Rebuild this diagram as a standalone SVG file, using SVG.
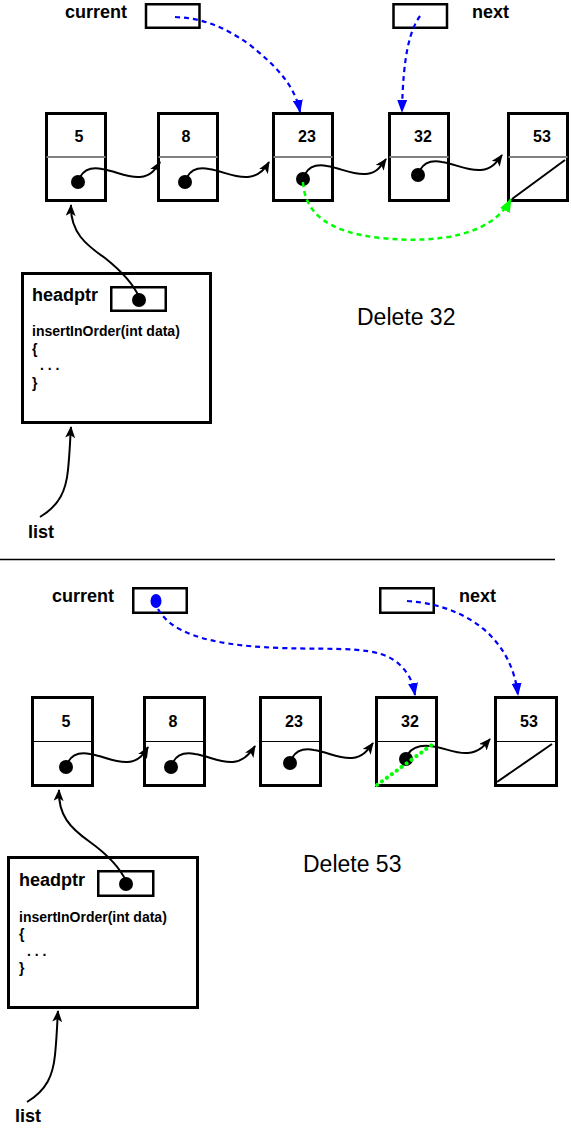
<svg xmlns="http://www.w3.org/2000/svg" width="571" height="1130" viewBox="0 0 571 1130">
<style>
text{font-family:"Liberation Sans",Arial,sans-serif;fill:#000}
.lbl{font-size:18px;font-weight:bold}
.num{font-size:16px;font-weight:bold;text-anchor:middle}
.code{font-size:14px;font-weight:bold}
.big{font-size:23px}
.box{fill:#fff;stroke:#000;stroke-width:3}
.sbox{fill:none;stroke:#000;stroke-width:2.5}
.divg{stroke:#808080;stroke-width:2}
.divb{stroke:#000;stroke-width:1}
.dot{fill:#000}
.ptr{fill:none;stroke:#000;stroke-width:2;marker-end:url(#ah)}
.nul{stroke:#000;stroke-width:2}
.blue{fill:none;stroke:#0000ff;stroke-width:2.2;stroke-dasharray:5 4;marker-end:url(#bh)}
.green{fill:none;stroke:#00ff00;stroke-width:2.5;stroke-dasharray:5 4;marker-end:url(#gh)}
</style>
<defs>
<marker id="ah" markerWidth="12" markerHeight="10" refX="11" refY="5" orient="auto" markerUnits="userSpaceOnUse"><path d="M0,0 L12,5 L0,10 L3,5 z" fill="#000"/></marker>
<marker id="bh" markerWidth="13" markerHeight="10" refX="12" refY="5" orient="auto" markerUnits="userSpaceOnUse"><path d="M0,0 L13,5 L0,10 z" fill="#0000ff"/></marker>
<marker id="gh" markerWidth="14" markerHeight="11" refX="13" refY="5.5" orient="auto" markerUnits="userSpaceOnUse"><path d="M0,0 L14,5.5 L0,11 z" fill="#00ff00"/></marker>
</defs>

<!-- ===== Top section ===== -->
<g id="top-current">
<text class="lbl" x="65" y="18">current</text>
<rect class="sbox" x="146" y="4.25" width="53.5" height="23.5"/>
</g>
<g id="top-next">
<rect class="sbox" x="393.5" y="4.25" width="53.5" height="23.5"/>
<text class="lbl" x="472" y="18">next</text>
</g>

<g id="top-n5">
<rect class="box" x="46.5" y="113.5" width="59" height="87"/>
<line class="divg" x1="46.5" y1="157" x2="105.5" y2="157"/>
<text class="num" x="79" y="142">5</text>
<circle class="dot" cx="78" cy="182" r="7"/>
</g>
<g id="top-n8">
<rect class="box" x="158.5" y="113.5" width="59" height="87"/>
<line class="divg" x1="158.5" y1="157" x2="217.5" y2="157"/>
<text class="num" x="186" y="142">8</text>
<circle class="dot" cx="185" cy="182" r="7"/>
</g>
<g id="top-n23">
<rect class="box" x="273.5" y="113.5" width="59" height="87"/>
<line class="divg" x1="273.5" y1="157" x2="332.5" y2="157"/>
<text class="num" x="307" y="142">23</text>
<circle class="dot" cx="303" cy="179" r="7"/>
</g>
<g id="top-n32">
<rect class="box" x="389.5" y="113.5" width="59" height="87"/>
<line class="divg" x1="389.5" y1="157" x2="448.5" y2="157"/>
<text class="num" x="423" y="142">32</text>
<circle class="dot" cx="418" cy="175" r="7"/>
</g>
<g id="top-n53">
<rect class="box" x="508.5" y="113.5" width="59" height="87"/>
<line class="divg" x1="508.5" y1="157" x2="567.5" y2="157"/>
<text class="num" x="542" y="142">53</text>
<line class="nul" x1="565" y1="160" x2="512" y2="199"/>
</g>

<g id="top-headptr">
<rect class="box" x="22.5" y="273.5" width="188" height="149"/>
<text class="lbl" x="32" y="301">headptr</text>
<rect class="sbox" x="111.25" y="287.25" width="54.5" height="23.5"/>
<circle class="dot" cx="139" cy="300" r="7"/>
<text class="code" x="32" y="336">insertInOrder(int data)</text>
<text class="code" x="32" y="354">{</text>
<text class="code" x="40" y="370">. . .</text>
<text class="code" x="32" y="388">}</text>
</g>
<g id="top-list"><text class="lbl" x="28" y="538">list</text></g>
<g id="top-title"><text class="big" x="357" y="325">Delete 32</text></g>

<g id="top-connectors">
<path class="ptr" d="M80,177 C84,170 92,167 102,169 C116,171 126,178 140,177 C151,176 156,169 160,162"/>
<path class="ptr" d="M187,177 C191,170 199,167 209,169 C223,171 233,178 248,177 C259,176 265,169 269,162"/>
<path class="ptr" d="M305,174 C309,167 317,164 327,166 C341,168 351,175 366,174 C377,173 381,166 386,159"/>
<path class="ptr" d="M420,170 C424,163 432,160 442,162 C456,164 466,171 481,170 C492,169 497,162 502,155"/>
<path class="ptr" d="M139,297 C133,283 120,270 105,258 C86,245 70,232 71,205"/>
<path class="ptr" d="M40,517 C60,505 66,490 68,470 C70,450 70,440 71,427"/>
<path class="blue" d="M175,17 C200,18 222,25 250,45 C275,65 295,85 300,112"/>
<path class="blue" d="M420,16 C410,30 403,55 402,112"/>
<path class="green" d="M303,182 C305,215 330,232 380,238 C440,244 492,235 511,199"/>
</g>

<line id="separator" x1="0" y1="559.5" x2="555" y2="559.5" stroke="#000" stroke-width="1.5"/>

<!-- ===== Bottom section ===== -->
<g id="bot-current">
<text class="lbl" x="52" y="602">current</text>
<rect class="sbox" x="133.25" y="588.25" width="53.5" height="24.5"/>
<ellipse cx="156" cy="601" rx="5.5" ry="7" fill="#0000ff"/>
</g>
<g id="bot-next">
<rect class="sbox" x="380.25" y="588.25" width="53.5" height="24.5"/>
<text class="lbl" x="459" y="602">next</text>
</g>

<g id="bot-n5">
<rect class="box" x="32.5" y="697.5" width="60" height="88"/>
<line class="divb" x1="32.5" y1="741.5" x2="92.5" y2="741.5"/>
<text class="num" x="66" y="727">5</text>
<circle class="dot" cx="66" cy="767" r="7"/>
</g>
<g id="bot-n8">
<rect class="box" x="144.5" y="697.5" width="60" height="88"/>
<line class="divb" x1="144.5" y1="741.5" x2="204.5" y2="741.5"/>
<text class="num" x="173" y="727">8</text>
<circle class="dot" cx="171" cy="767" r="7"/>
</g>
<g id="bot-n23">
<rect class="box" x="260.5" y="697.5" width="60" height="88"/>
<line class="divb" x1="260.5" y1="741.5" x2="320.5" y2="741.5"/>
<text class="num" x="294" y="727">23</text>
<circle class="dot" cx="290" cy="763" r="7"/>
</g>
<g id="bot-n32">
<rect class="box" x="376.5" y="697.5" width="60" height="88"/>
<line class="divb" x1="376.5" y1="741.5" x2="436.5" y2="741.5"/>
<text class="num" x="410" y="727">32</text>
<circle class="dot" cx="406" cy="759" r="7"/>
</g>
<g id="bot-n53">
<rect class="box" x="495.5" y="697.5" width="61" height="88"/>
<line class="divb" x1="495.5" y1="741.5" x2="556.5" y2="741.5"/>
<text class="num" x="529" y="727">53</text>
<line class="nul" x1="552" y1="744" x2="497" y2="782"/>
</g>

<g id="bot-headptr">
<rect class="box" x="8.5" y="857.5" width="189" height="150"/>
<text class="lbl" x="19" y="886">headptr</text>
<rect class="sbox" x="98.25" y="871.25" width="55" height="24.5"/>
<circle class="dot" cx="126" cy="884" r="7"/>
<text class="code" x="19" y="922">insertInOrder(int data)</text>
<text class="code" x="19" y="939">{</text>
<text class="code" x="27" y="956">. . .</text>
<text class="code" x="19" y="973">}</text>
</g>
<g id="bot-list"><text class="lbl" x="15" y="1122">list</text></g>
<g id="bot-title"><text class="big" x="303" y="872">Delete 53</text></g>

<g id="bot-connectors">
<path class="ptr" d="M68,762 C72,755 80,752 90,754 C104,756 114,763 128,762 C139,761 144,754 148,747"/>
<path class="ptr" d="M173,762 C177,755 185,752 195,754 C209,756 219,763 233,762 C244,761 250,754 255,746"/>
<path class="ptr" d="M292,758 C296,751 304,748 314,750 C328,752 338,759 352,758 C363,757 368,750 373,743"/>
<path class="ptr" d="M408,754 C412,748 420,745 430,746 C444,747 454,754 468,753 C479,752 484,746 490,739"/>
<path class="ptr" d="M126,881 C120,868 108,855 90,842 C70,828 58,815 59,790"/>
<path class="ptr" d="M27,1102 C47,1090 53,1075 55,1055 C57,1035 57,1025 58,1011"/>
<path class="blue" d="M158,609 C170,630 200,645 280,648 C340,650 380,645 400,665 C410,675 413,683 415,695"/>
<path class="blue" d="M407,601 C440,603 470,615 490,635 C505,650 515,670 518,695"/>
<line x1="377" y1="785" x2="433" y2="744" stroke="#00ff00" stroke-width="4" stroke-dasharray="0.1 6" stroke-linecap="round"/>
</g>
</svg>
